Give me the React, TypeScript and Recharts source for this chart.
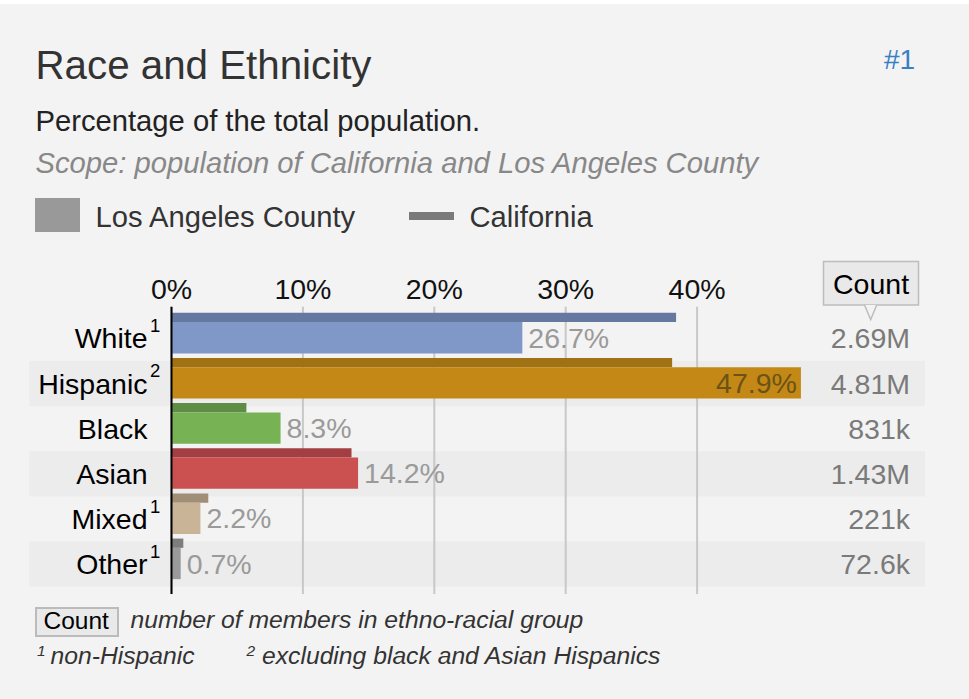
import {
  Bar,
  BarChart,
  CartesianGrid,
  Cell,
  LabelList,
  ReferenceArea,
  XAxis,
  YAxis,
} from "recharts";

const FONT = "Arial, 'Liberation Sans', sans-serif";

const categories = ["White", "Hispanic", "Black", "Asian", "Mixed", "Other"];
const footnotes = ["1", "2", "", "", "1", "1"];
// share of total population, percent
const laCountyShare = [26.7, 47.9, 8.3, 14.2, 2.2, 0.7];
const californiaShare = [38.4, 38.1, 5.7, 13.7, 2.8, 0.9];
const laCounts = ["2.69M", "4.81M", "831k", "1.43M", "221k", "72.6k"];
const xTicks = [0, 10, 20, 30, 40];

const laColors = ["#7f98c8", "#c48816", "#77b255", "#cb5151", "#c9b497", "#9a9a9a"];
const caColors = ["#65789f", "#a17214", "#5e8e45", "#a33f42", "#a08e77", "#7d7d7d"];

const stripedRows = ["Hispanic", "Asian", "Other"];

const rows = categories.map((category, i) => ({
  category,
  note: footnotes[i],
  la: laCountyShare[i],
  ca: californiaShare[i],
  count: laCounts[i],
}));

const BG = "#f3f3f3";
const STRIPE = "#ececec";
// stripes reach past the plot into the label and count columns
const STRIPE_LEFT = 142.2;
const STRIPE_RIGHT = 96.5;

function TopTick({ x, y, payload }: any) {
  return (
    <text x={x} y={y} textAnchor="middle" fontSize={28.5} fill="#111">
      {`${payload.value}%`}
    </text>
  );
}

function CategoryTick({ x, y, payload }: any) {
  const note = rows.find((r) => r.category === payload.value)?.note;
  return (
    <g>
      <text x={x - 16} y={y} dy="0.355em" textAnchor="end" fontSize={28.5} fill="#000">
        {payload.value}
      </text>
      {note && (
        <text x={x - 13.5} y={y} dy={-6.3} textAnchor="start" fontSize={18.5} fill="#000">
          {note}
        </text>
      )}
    </g>
  );
}

function CountTick({ x, y, payload }: any) {
  const count = rows.find((r) => r.category === payload.value)?.count;
  return (
    <text x={x + 73.5} y={y} dy="0.355em" textAnchor="end" fontSize={28.5} fill="#7a7a7a">
      {count}
    </text>
  );
}

function ShareLabel(props: any) {
  const box = props.viewBox ?? props;
  const { x, y, width, height } = box;
  const v = Number(props.value);
  const inside = v > 40;
  return (
    <text
      x={inside ? x + width - 4 : x + width + 6}
      y={y + height / 2}
      dy="0.355em"
      textAnchor={inside ? "end" : "start"}
      fontSize={28.5}
      fill={inside ? "#6b5316" : "#9a9a9a"}
    >
      {`${v.toFixed(1)}%`}
    </text>
  );
}

function Stripe(props: any) {
  const { x, y, width, height } = props;
  return (
    <rect
      x={x - STRIPE_LEFT}
      y={y}
      width={width + STRIPE_LEFT + STRIPE_RIGHT}
      height={height}
      fill={STRIPE}
    />
  );
}

const abs = (left: number, top: number, extra: React.CSSProperties = {}) =>
  ({ position: "absolute", left, top, lineHeight: 1, whiteSpace: "nowrap", ...extra }) as React.CSSProperties;

export default function App() {
  return (
    <div
      style={{
        position: "absolute",
        left: 0,
        top: 0,
        width: 969,
        height: 699,
        background: "#fff",
        fontFamily: FONT,
        overflow: "hidden",
      }}
    >
      <div style={{ position: "absolute", left: 0, top: 4, width: 969, height: 695, background: BG }} />

      <div style={abs(35.5, 46.1, { fontSize: 40.3, color: "#333" })}>Race and Ethnicity</div>
      <div style={abs(884, 45.6, { fontSize: 28, color: "#3a7fc4" })}>#1</div>
      <div style={abs(35.5, 107.2, { fontSize: 29.2, color: "#222" })}>
        Percentage of the total population.
      </div>
      <div style={abs(35.5, 148.6, { fontSize: 29.2, color: "#888", fontStyle: "italic" })}>
        Scope: population of California and Los Angeles County
      </div>

      {/* legend */}
      <div style={abs(35, 198, { width: 45, height: 34, background: "#999" })} />
      <div style={abs(95.5, 203, { fontSize: 29.2, color: "#333" })}>Los Angeles County</div>
      <div style={abs(409, 212, { width: 45, height: 8, background: "#7a7a7a" })} />
      <div style={abs(469.5, 203, { fontSize: 29.2, color: "#333" })}>California</div>

      {/* count column header */}
      <svg style={abs(820, 258)} width={102} height={66}>
        <rect x={3.5} y={3.5} width={95} height={43.5} fill="#e9e9e9" stroke="#bdbdbd" strokeWidth={1.5} />
        <path d="M44.5 47 L50.7 61.5 L56.7 47" fill={BG} stroke="#bdbdbd" strokeWidth={1.5} />
        <text x={13} y={36.3} fontSize={28.5} fill="#000">
          Count
        </text>
      </svg>

      <div style={{ position: "absolute", left: 0, top: 250 }}>
        <BarChart
          width={969}
          height={360}
          data={rows}
          layout="vertical"
          barGap={0}
          margin={{ top: 26.7, right: 40.5, bottom: 16, left: 30 }}
        >
          {stripedRows.map((c) => (
            <ReferenceArea
              key={c}
              yAxisId="rows"
              y1={c}
              y2={c}
              ifOverflow="visible"
              zIndex={-150}
              shape={<Stripe />}
            />
          ))}
          <CartesianGrid
            horizontal={false}
            stroke="#c8c8c8"
            strokeWidth={2}
            yAxisId="rows"
            syncWithTicks
          />
          <XAxis
            type="number"
            orientation="top"
            domain={[0, 50]}
            ticks={xTicks}
            height={30}
            axisLine={false}
            tickLine={false}
            tick={<TopTick />}
          />
          <YAxis
            yAxisId="rows"
            type="category"
            dataKey="category"
            width={141.5}
            padding={{ top: 9.1, bottom: 7.3 }}
            axisLine={{ stroke: "#000", strokeWidth: 2 }}
            tickLine={false}
            tick={<CategoryTick />}
          />
          <YAxis
            yAxisId="counts"
            orientation="right"
            type="category"
            dataKey="category"
            width={100}
            padding={{ top: 9.1, bottom: 7.3 }}
            axisLine={false}
            tickLine={false}
            tick={<CountTick />}
          />
          <YAxis
            yAxisId="bars"
            type="category"
            dataKey="category"
            hide
            width={0}
            padding={{ top: 4.1, bottom: 12.3 }}
          />
          <Bar yAxisId="bars" dataKey="ca" barSize={9.3} isAnimationActive={false}>
            {rows.map((r, i) => (
              <Cell key={r.category} fill={caColors[i]} />
            ))}
          </Bar>
          <Bar yAxisId="bars" dataKey="la" barSize={31.3} isAnimationActive={false}>
            {rows.map((r, i) => (
              <Cell key={r.category} fill={laColors[i]} />
            ))}
            <LabelList dataKey="la" content={<ShareLabel />} />
          </Bar>
        </BarChart>
      </div>

      {/* footer */}
      <div
        style={abs(35, 606.7, {
          width: 80,
          height: 26,
          background: "#e9e9e9",
          border: "2px solid #bbb",
        })}
      />
      <div style={abs(43.5, 608.6, { fontSize: 24.5, color: "#000" })}>Count</div>
      <div style={abs(130.5, 608.4, { fontSize: 24.7, color: "#333", fontStyle: "italic" })}>
        number of members in ethno-racial group
      </div>
      <div style={abs(37, 643, { fontSize: 15.5, color: "#333", fontStyle: "italic" })}>1</div>
      <div style={abs(50.5, 644.1, { fontSize: 24.7, color: "#333", fontStyle: "italic" })}>
        non-Hispanic
      </div>
      <div style={abs(246.5, 643, { fontSize: 15.5, color: "#333", fontStyle: "italic" })}>2</div>
      <div style={abs(262, 644.1, { fontSize: 24.7, color: "#333", fontStyle: "italic" })}>
        excluding black and Asian Hispanics
      </div>
    </div>
  );
}
